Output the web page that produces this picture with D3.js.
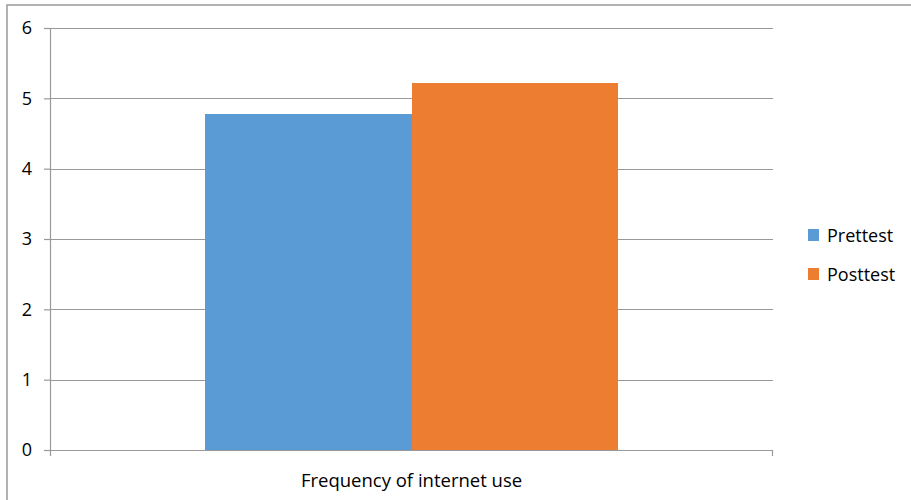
<!DOCTYPE html>
<html><head><meta charset="utf-8">
<script src="https://cdn.jsdelivr.net/npm/d3@7"></script>
<style>body{margin:0;background:#fff}svg{display:block}text{font-family:"Open Sans",sans-serif;fill:#000}</style>
</head><body><svg id="c" width="911" height="500"></svg>
<script>
const categories = ["Frequency of internet use"];
const seriesNames = ["Prettest", "Posttest"];
const prettest = [4.78];
const posttest = [5.22];
const yTicks = [0, 1, 2, 3, 4, 5, 6];
const colors = ["#5b9bd5", "#ed7d31"];

const svg = d3.select("#c");
const W = 911, H = 500;
const m = {left: 50, right: 911 - 773, top: 28, bottom: 500 - 450};
const pw = W - m.left - m.right, ph = H - m.top - m.bottom;

svg.append("rect").attr("x", 7).attr("y", 5).attr("width", W + 10).attr("height", H + 10)
  .attr("fill", "#fff").attr("stroke", "#999").attr("stroke-width", 1.5);

const g = svg.append("g").attr("transform", `translate(${m.left},${m.top})`);
const y = d3.scaleLinear().domain([0, 6]).range([ph, 0]);
const x0 = d3.scaleBand().domain(categories).range([0, pw]).paddingInner(0).paddingOuter(0);
const x1 = d3.scaleBand().domain(seriesNames).range([x0.bandwidth() * 0.2137, x0.bandwidth() * (1 - 0.2137)]).padding(0);

// gridlines
g.append("g").selectAll("line").data(yTicks.filter(t => t > 0)).join("line")
  .attr("x1", 0).attr("x2", pw).attr("y1", d => Math.round(y(d)) + 0.5).attr("y2", d => Math.round(y(d)) + 0.5)
  .attr("stroke", "#999").attr("stroke-width", 1.2);

const rows = categories.map((c, i) => ({c, vals: [prettest[i], posttest[i]]}));
g.append("g").attr("shape-rendering", "crispEdges").selectAll("g").data(rows).join("g")
  .attr("transform", d => `translate(${x0(d.c)},0)`)
  .selectAll("rect").data(d => d.vals.map((v, j) => ({v, s: seriesNames[j], j}))).join("rect")
  .attr("x", d => Math.round(x1(d.s))).attr("width", d => Math.round(x1(d.s) + x1.bandwidth()) - Math.round(x1(d.s)))
  .attr("y", d => Math.round(y(d.v))).attr("height", d => ph - Math.round(y(d.v)))
  .attr("fill", d => colors[d.j]);

// y axis
const ya = g.append("g").call(d3.axisLeft(y).tickValues(yTicks).tickSize(6).tickPadding(12).tickFormat(d3.format("d")));
ya.select(".domain").attr("stroke", "#999").attr("stroke-width", 1.2);
ya.selectAll(".tick line").attr("stroke", "#999").attr("stroke-width", 1.2);
ya.selectAll(".tick text").attr("font-size", 18).attr("font-family", "Open Sans").attr("fill", "#000");

// x axis
const xa = g.append("g").attr("transform", `translate(0,${ph})`)
  .call(d3.axisBottom(x0).tickSize(0).tickPadding(24));
xa.select(".domain").attr("stroke", "#999").attr("stroke-width", 1.2).attr("d", `M0.5,6V0.5H${pw - 0.5}V6`);
xa.selectAll(".tick text").attr("font-size", 18.5).attr("font-family", "Open Sans").attr("fill", "#000");

// legend
const lg = svg.append("g").attr("transform", "translate(808,229)");
const li = lg.selectAll("g").data(seriesNames).join("g").attr("transform", (d, i) => `translate(0,${i * 39})`);
li.append("rect").attr("width", 11).attr("height", 12).attr("fill", (d, i) => colors[i]);
li.append("text").attr("x", 19).attr("y", 13).attr("font-size", 18).text(d => d);
</script></body></html>
